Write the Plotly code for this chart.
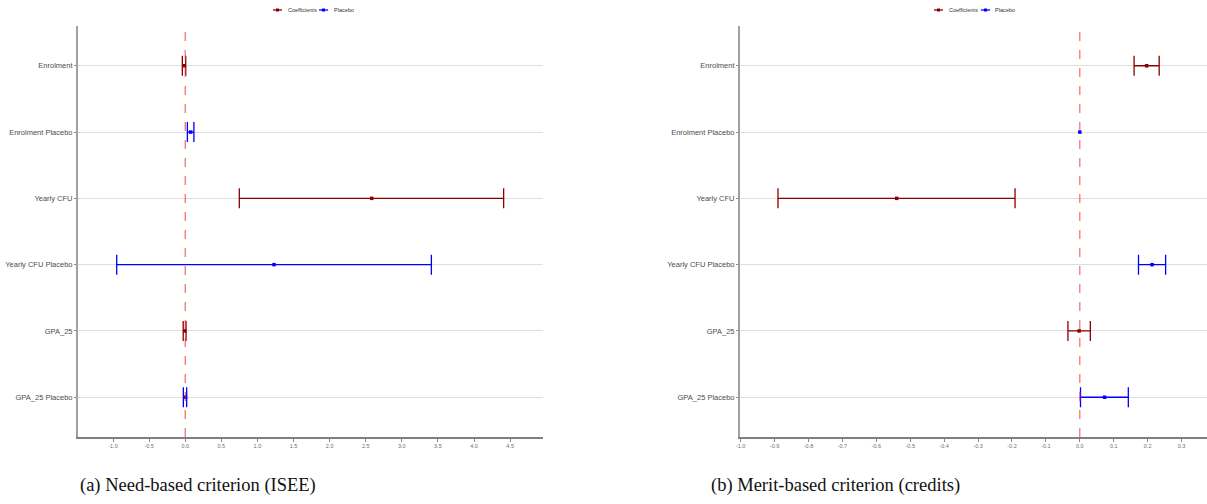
import plotly.graph_objects as go

# Outcome labels, top to bottom
outcomes = ["Enrolment", "Enrolment Placebo", "Yearly CFU",
            "Yearly CFU Placebo", "GPA_25", "GPA_25 Placebo"]
groups = ["Coefficients", "Placebo", "Coefficients",
          "Placebo", "Coefficients", "Placebo"]

# (a) Need-based criterion (ISEE): point estimates and confidence bounds
isee_est = [-0.017, 0.075, 2.583, 1.230, -0.007, 0.004]
isee_lo = [-0.040, 0.030, 0.749, -0.949, -0.028, -0.026]
isee_hi = [0.007, 0.120, 4.410, 3.409, 0.011, 0.020]

# (b) Merit-based criterion (credits)
merit_est = [0.197, 0.000, -0.540, 0.213, -0.002, 0.073]
merit_lo = [0.160, 0.000, -0.890, 0.173, -0.035, 0.002]
merit_hi = [0.234, 0.000, -0.191, 0.253, 0.031, 0.143]

isee_ticks = [-1.0, -0.5, 0.0, 0.5, 1.0, 1.5, 2.0, 2.5, 3.0, 3.5, 4.0, 4.5]
merit_ticks = [-1.0, -0.9, -0.8, -0.7, -0.6, -0.5, -0.4, -0.3, -0.2, -0.1,
               0.0, 0.1, 0.2, 0.3]

COLORS = {"Coefficients": "#8B0000", "Placebo": "#0000FF"}
W, H = 1207, 504

fig = go.Figure()


def add_panel(est, lo, hi, xa, ya):
    for g in ["Coefficients", "Placebo"]:
        col = COLORS[g]
        idx = [i for i, gg in enumerate(groups) if gg == g]
        with_ci = [i for i in idx if hi[i] > lo[i]]
        point_only = [i for i in idx if hi[i] <= lo[i]]
        if with_ci:
            fig.add_trace(go.Scatter(
                x=[est[i] for i in with_ci], y=[outcomes[i] for i in with_ci],
                mode="markers", xaxis=xa, yaxis=ya,
                marker=dict(color=col, size=3.5, symbol="square"),
                error_x=dict(type="data", symmetric=False,
                             array=[hi[i] - est[i] for i in with_ci],
                             arrayminus=[est[i] - lo[i] for i in with_ci],
                             color=col, thickness=1.3, width=10),
                showlegend=False, hoverinfo="skip"))
        if point_only:
            fig.add_trace(go.Scatter(
                x=[est[i] for i in point_only],
                y=[outcomes[i] for i in point_only],
                mode="markers", xaxis=xa, yaxis=ya,
                marker=dict(color=col, size=3.5, symbol="square"),
                showlegend=False, hoverinfo="skip"))


add_panel(isee_est, isee_lo, isee_hi, "x", "y")
add_panel(merit_est, merit_lo, merit_hi, "x2", "y2")

ydom = [1 - 437 / H, 1 - 26 / H]
common_y = dict(
    type="category", categoryorder="array", categoryarray=outcomes,
    range=[5.6, -0.6], showgrid=True, gridcolor="#DEDEDE", gridwidth=1,
    showline=True, linecolor="#A0A0A0", linewidth=2,
    ticks="outside", ticklen=2, tickcolor="#888888", automargin=False,
    tickfont=dict(family="Liberation Sans, Arial", size=7.5, color="#4D4D4D"),
    zeroline=False, domain=ydom)
common_x = dict(
    showgrid=False, zeroline=False, showline=True, linecolor="#808080",
    linewidth=1.5, ticks="outside", ticklen=3, tickcolor="#888888",
    automargin=False,
    tickfont=dict(family="Liberation Sans, Arial", size=5.5, color="#6E6E6E"))

fig.update_layout(
    width=W, height=H,
    margin=dict(l=0, r=0, t=0, b=0, autoexpand=False),
    paper_bgcolor="white", plot_bgcolor="white", showlegend=False,
    xaxis=dict(**common_x, domain=[78 / W, 543 / W],
               range=[-1.485, 4.955], tickvals=isee_ticks,
               ticktext=[f"{v:.1f}" for v in isee_ticks], anchor="y"),
    yaxis=dict(**common_y, anchor="x"),
    xaxis2=dict(**common_x, domain=[740 / W, 1.0],
                range=[-1.002, 0.375], tickvals=merit_ticks,
                ticktext=[f"{v:.1f}" for v in merit_ticks], anchor="y2"),
    yaxis2=dict(**common_y, anchor="x2"),
)

# dashed reference line at zero in both panels
for xr in ["x", "x2"]:
    fig.add_shape(type="line", xref=xr, yref="paper", x0=0, x1=0,
                  y0=ydom[0], y1=ydom[1],
                  line=dict(color="rgba(240,50,50,0.8)", width=1.1,
                            dash="dash"), layer="above")

# small key above each panel: short line with a point, then the label
legend_rows = [
    [("Coefficients", 273, 286), ("Placebo", 319, 332)],
    [("Coefficients", 934, 947), ("Placebo", 981, 993)],
]
ly = 1 - 10 / H
for row in legend_rows:
    for name, x0, xt in row:
        col = COLORS[name]
        fig.add_shape(type="line", xref="paper", yref="paper",
                      x0=x0 / W, x1=(x0 + 9) / W, y0=ly, y1=ly,
                      line=dict(color=col, width=1.3))
        fig.add_shape(type="rect", xref="paper", yref="paper",
                      x0=(x0 + 3) / W, x1=(x0 + 6) / W,
                      y0=ly - 1.5 / H, y1=ly + 1.5 / H,
                      line=dict(width=0), fillcolor=col)
        fig.add_annotation(text=name, x=xt / W, y=ly, xref="paper",
                           yref="paper", showarrow=False, xanchor="left",
                           yanchor="middle",
                           font=dict(family="Liberation Sans, Arial",
                                     size=5.5, color="#333333"))

# panel captions
for txt, xc in [("(a) Need-based criterion (ISEE)", 198 / W),
                ("(b) Merit-based criterion (credits)", 835 / W)]:
    fig.add_annotation(text=txt, x=xc, y=1 - 485 / H, xref="paper",
                       yref="paper", showarrow=False, xanchor="center",
                       yanchor="middle",
                       font=dict(family="Liberation Serif, DejaVu Serif",
                                 size=18.5, color="#111111"))

fig.write_html("out.html")
